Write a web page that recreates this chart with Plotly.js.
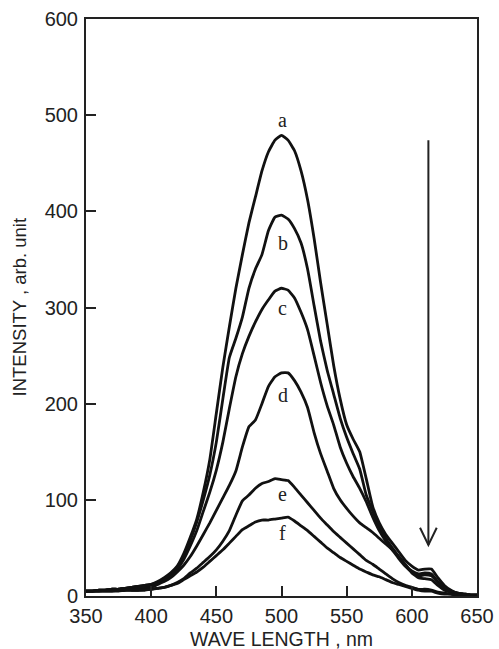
<!DOCTYPE html>
<html>
<head>
<meta charset="utf-8">
<script src="https://cdn.plot.ly/plotly-3.0.1.min.js"></script>
<style>
html,body{margin:0;padding:0;background:#fff;}
#chart{width:499px;height:649px;}
</style>
</head>
<body>
<div id="chart"></div>
<script>
// Wavelength grid (nm), 5 nm steps from 350 to 650
const wavelength = [350,355,360,365,370,375,380,385,390,395,400,405,410,415,420,425,430,435,440,445,450,455,460,465,470,475,480,485,490,495,500,505,510,515,520,525,530,535,540,545,550,555,560,565,570,575,580,585,590,595,600,605,610,615,620,625,630,635,640,645,650];

const curveA = [5,5,6,6,7,7,8,9,10,11,12,15,19,24,31,44,61,80,108,142,190,238,280,320,355,388,415,442,462,474,479,474,463,442,412,372,326,283,240,205,178,163,150,122,93,76,64,55,46,37,31,27,28,28,19,11,6,3,2,1,1];
const curveB = [5,5,6,6,7,7,8,9,10,11,12,14,18,23,30,42,58,77,100,126,160,205,248,268,290,320,340,355,380,394,396,392,382,367,340,302,265,235,210,185,165,148,132,105,88,72,60,50,41,32,26,23,24,23,15,9,5,3,2,1,1];
const curveC = [5,5,6,6,7,7,8,9,10,10,11,13,17,22,28,38,52,68,88,108,131,160,195,228,252,270,285,298,308,317,320,318,310,295,277,250,222,198,178,155,138,124,112,98,82,68,57,48,39,31,25,21,22,21,14,8,5,3,2,1,1];
const curveD = [5,5,5,6,6,6,7,7,8,8,9,12,15,19,25,32,41,52,64,76,89,102,115,130,155,176,183,200,218,228,232,232,224,212,196,170,148,130,112,100,91,83,76,71,66,60,54,48,41,33,24,19,18,17,11,6,4,2,1,1,1];
const curveE = [5,5,5,5,5,6,6,6,6,7,7,8,9,11,14,18,24,29,35,41,48,57,68,84,99,105,112,117,119,122,121,120,113,105,97,89,81,74,67,61,55,49,43,37,33,28,23,18,14,11,9,7,7,6,4,3,2,1,1,1,1];
const curveF = [5,5,5,5,5,5,6,6,6,6,7,8,9,11,13,17,21,25,30,36,42,48,55,62,69,73,77,79,79,80,81,82,78,73,68,62,56,50,45,40,36,32,28,25,22,20,17,14,12,10,8,6,5,5,3,2,2,1,1,1,1];

const seriesNames = ['a','b','c','d','e','f'];
const seriesValues = [curveA, curveB, curveC, curveD, curveE, curveF];

// Label anchor readings (wavelength, intensity) for the curve letters
const labelX = [501,501,501,501,501,501];
const labelY = [495,367,300,209,106,66];

// Arrow readings (wavelength, intensity)
const arrowX = 612.7;
const arrowTop = 474;
const arrowTip = 53;

const traces = seriesValues.map((vals, i) => ({
  x: wavelength,
  y: vals,
  type: 'scatter',
  mode: 'lines',
  name: seriesNames[i],
  line: {color: '#111', width: 2.8, shape: 'spline', smoothing: 0.4},
  showlegend: false,
  hoverinfo: 'skip'
}));

const sansFamily = '"Liberation Sans", Arial, Helvetica, sans-serif';

const annotations = seriesNames.map((n, i) => ({
  x: labelX[i], y: labelY[i], xref: 'x', yref: 'y',
  text: n, showarrow: false,
  font: {family: '"Liberation Serif", "Times New Roman", serif', size: 20, color: '#222'},
  xanchor: 'center', yanchor: 'middle'
}));

annotations.push({
  xref: 'paper', yref: 'y', x: -0.169, y: 301,
  text: 'INTENSITY , arb. unit', textangle: -90, showarrow: false,
  font: {family: sansFamily, size: 18.5, color: '#222'},
  xanchor: 'center', yanchor: 'middle'
});

annotations.push({
  xref: 'paper', yref: 'paper', x: 0.5, y: -0.0745,
  text: 'WAVE LENGTH , nm', showarrow: false,
  font: {family: sansFamily, size: 19.5, color: '#222'},
  xanchor: 'center', yanchor: 'middle'
});

const axisFont = {family: sansFamily, size: 20, color: '#222'};

const layout = {
  width: 499, height: 649,
  margin: {l: 86, r: 22, t: 19, b: 53},
  paper_bgcolor: '#fff', plot_bgcolor: '#fff',
  showlegend: false,
  xaxis: {
    range: [350, 650], tickmode: 'array', tickvals: [350,400,450,500,550,600,650],
    ticks: 'inside', ticklen: 10, tickwidth: 2, tickcolor: '#222',
    showline: true, linewidth: 2, linecolor: '#222', mirror: true,
    showgrid: false, zeroline: false, tickfont: axisFont, ticklabelstandoff: 1
  },
  yaxis: {
    range: [0, 600], tickmode: 'array', tickvals: [0,100,200,300,400,500,600],
    ticks: 'inside', ticklen: 10, tickwidth: 2, tickcolor: '#222',
    showline: true, linewidth: 2, linecolor: '#222', mirror: true,
    showgrid: false, zeroline: false, tickfont: axisFont, ticklabelstandoff: 2
  },
  shapes: [
    {type: 'line', xref: 'x', yref: 'y', x0: arrowX, x1: arrowX, y0: arrowTop, y1: arrowTip,
     line: {color: '#222', width: 2}},
    {type: 'path', xref: 'x', yref: 'y',
     path: `M ${arrowX-6.4},${arrowTip+18} L ${arrowX},${arrowTip} L ${arrowX+6.4},${arrowTip+18}`,
     line: {color: '#222', width: 2}}
  ],
  annotations: annotations
};

Plotly.newPlot('chart', traces, layout, {staticPlot: true, displayModeBar: false});
</script>
</body>
</html>
